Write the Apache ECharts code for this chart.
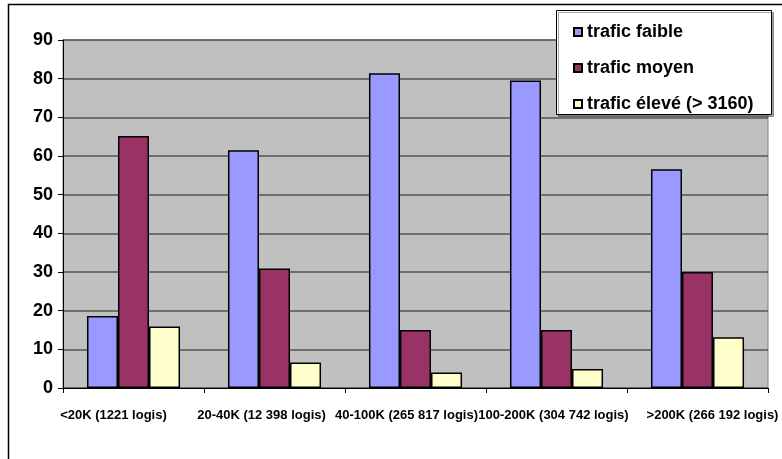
<!DOCTYPE html>
<html>
<head>
<meta charset="utf-8">
<script src="https://cdn.jsdelivr.net/npm/echarts@6/dist/echarts.min.js"></script>
<style>
html,body{margin:0;padding:0;background:#fff;}
#main{width:782px;height:459px;}
</style>
</head>
<body>
<div id="main"></div>
<script>
const categories = ['<20K (1221 logis)', '20-40K (12 398 logis)', '40-100K (265 817 logis)', '100-200K (304 742 logis)', '>200K (266 192 logis)'];
const seriesNames = ['trafic faible', 'trafic moyen', 'trafic élevé (> 3160)'];
const faible = [18.6, 61.5, 81.4, 79.5, 56.6];
const moyen = [65.2, 30.9, 15.0, 15.0, 30.0];
const eleve = [15.9, 6.6, 4.0, 4.9, 13.1];
const yTicks = [0, 10, 20, 30, 40, 50, 60, 70, 80, 90];

const FONT = "'Liberation Sans', Arial, sans-serif";
const colors = ['#9999FF', '#993366', '#FFFFCC'];
// horizontal label shifts (px) to mimic the original's label spreading
const labelShift = [-20, -13, -9, -3, 15];

const labelBase = {fontFamily: FONT, fontWeight: 'bold', fontSize: 13, color: '#000'};
const rich = {};
labelShift.forEach((s, i) => {
  rich['s' + i] = Object.assign({}, labelBase, {padding: s < 0 ? [0, -2 * s, 0, 0] : [0, 0, 0, 2 * s]});
});

const chart = echarts.init(document.getElementById('main'), null, {renderer: 'canvas'});
const mk = (name, data, color) => ({
  name: name,
  type: 'bar',
  data: data,
  barGap: '0%',
  barCategoryGap: '34%',
  itemStyle: {color: color, borderColor: '#000', borderWidth: 1.5},
  emphasis: {disabled: true}
});

chart.setOption({
  animation: false,
  backgroundColor: '#fff',
  textStyle: {fontFamily: FONT},
  graphic: [
    {type: 'rect', z: 0, shape: {x: 8.5, y: 4.5, width: 800, height: 500}, style: {fill: 'none', stroke: '#000', lineWidth: 1.5}},
    {type: 'rect', z: 100, shape: {x: 556.5, y: 10.5, width: 215, height: 104},
      style: {fill: '#fff', stroke: '#000', lineWidth: 1, shadowColor: 'rgba(0,0,0,0.35)', shadowOffsetX: 2, shadowOffsetY: 2, shadowBlur: 0}}
  ],
  grid: {left: 63, top: 40, right: 14, bottom: 71, show: true, backgroundColor: '#C0C0C0', borderColor: '#808080', borderWidth: 1},
  legend: {
    z: 200,
    orient: 'vertical',
    left: 573,
    top: 22,
    itemWidth: 8,
    itemHeight: 8,
    itemGap: 16,
    icon: 'rect',
    padding: 0,
    data: seriesNames,
    textStyle: {fontFamily: FONT, fontWeight: 'bold', fontSize: 18, color: '#000', lineHeight: 20},
    selectedMode: false
  },
  xAxis: {
    type: 'category',
    data: categories,
    axisLine: {lineStyle: {color: '#000', width: 1}},
    axisTick: {show: true, length: 5, lineStyle: {color: '#000'}},
    axisLabel: Object.assign({interval: 0, hideOverlap: false, margin: 21,
      formatter: (v, i) => '{s' + i + '|' + v + '}', rich: rich}, labelBase)
  },
  yAxis: {
    type: 'value',
    min: yTicks[0],
    max: yTicks[yTicks.length - 1],
    interval: 10,
    axisLine: {show: true, lineStyle: {color: '#000', width: 1}},
    axisTick: {show: true, length: 5, lineStyle: {color: '#000'}},
    axisLabel: {margin: 10, fontFamily: FONT, fontWeight: 'bold', fontSize: 18, color: '#000'},
    splitLine: {show: true, lineStyle: {color: '#555', width: 1.5}}
  },
  series: [
    mk(seriesNames[0], faible, colors[0]),
    mk(seriesNames[1], moyen, colors[1]),
    mk(seriesNames[2], eleve, colors[2])
  ]
});
</script>
</body>
</html>
